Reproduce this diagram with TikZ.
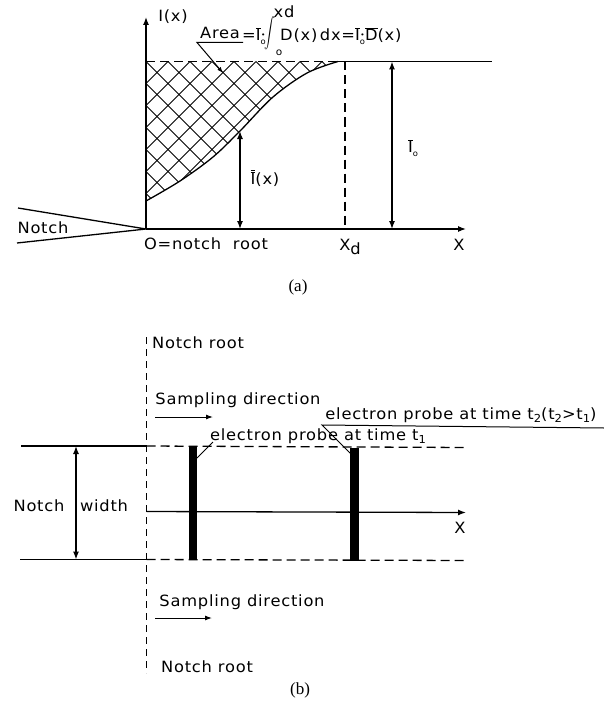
\documentclass[tikz,border=0pt]{standalone}
\usepackage{fontspec}
\setmainfont{Liberation Serif}
\newfontfamily\lett[FakeStretch=1.05,LetterSpace=5]{DejaVu Sans}
\usetikzlibrary{arrows.meta,calc}
\newcommand\ovl[1]{$\overline{\hbox{#1}}$}
\newcommand\dovl[1]{$\overline{\overline{\hbox{#1}}}$}
\newcommand\sbo{\raisebox{-3.5pt}{\fontsize{8}{8}\selectfont o}}
\newcommand\dotsbo{\rlap{\raisebox{3.5pt}{\fontsize{7}{7}\selectfont\kern0.5pt •}}\raisebox{-4pt}{\fontsize{8}{8}\selectfont o}}
\newcommand\sbx[1]{\raisebox{-3pt}{\fontsize{11}{11}\selectfont #1}}
\tikzset{
  lab/.style={font=\lett\fontsize{15.5}{17}\selectfont, inner sep=0pt},
  ln/.style={line width=1.3pt},
  thinln/.style={line width=1pt},
  dsh/.style={line width=1.3pt, dash pattern=on 9pt off 5pt},
  hatchln/.style={line width=0.8pt},
  arr/.style={-{Latex[length=8pt,width=6pt]}},
  darr/.style={{Latex[length=8pt,width=6pt]}-{Latex[length=8pt,width=6pt]}},
  sarr/.style={-{Latex[length=7pt,width=5pt]}},
  capt/.style={font=\fontsize{17}{19}\selectfont, inner sep=0pt}
}
\begin{document}
\begin{tikzpicture}[x=1pt,y=-1pt]
\useasboundingbox (0,0) rectangle (604,706);
% ---------------- part (a) ----------------
\coordinate (O) at (146,229);
\coordinate (Ytop) at (146,17);
\coordinate (Xend) at (466,229);
\coordinate (N1) at (18,208);
\coordinate (N2) at (17,243);
\coordinate (T0) at (146,61.5);
\coordinate (C0) at (146,201);
\coordinate (C1) at (338,61.5);
\coordinate (Tend) at (492,61.5);
\coordinate (Dtop) at (345,61.5);
\coordinate (Dbot) at (345,229);
\coordinate (Itop) at (392,61.5);
\coordinate (Ibot) at (392,229);
\coordinate (Jtop) at (240,131);
\coordinate (Jbot) at (240,229);
% hatching
\begin{scope}
\clip plot[smooth,tension=0.55] coordinates {(146,201) (180,181) (213,157) (240,131) (273,97) (307,73) (338,61.5)} -- (T0) -- cycle;
\foreach \k in {-10,...,10} {
  \draw[hatchln] ($(T0)+(22*\k,0)$) -- ++(200,200);
  \draw[hatchln] ($(T0)+(22*\k,0)$) -- ++(-200,200);
}
\end{scope}
\draw[ln] plot[smooth,tension=0.55] coordinates {(146,201) (180,181) (213,157) (240,131) (273,97) (307,73) (338,61.5)};
\draw[dsh] (T0) -- (C1);
\draw[ln] (C1) -- (Tend);
\draw[ln,arr] (O) -- (Ytop);
\draw[ln,arr] (O) -- (Xend);
\draw[ln] (N1) -- (O) -- (N2);
\draw[dsh] (Dtop) -- (Dbot);
\draw[ln,darr] (Itop) -- (Ibot);
\draw[ln,darr] (Jtop) -- (Jbot);
% labels (a)
\node[lab] (Ilab) at (173,17) {I(x)};
\node[lab,anchor=base] (area) at (220,39) {Area};
\coordinate (U0) at (197,42.5);
\coordinate (U1) at (243,42.5);
\coordinate (Utip) at (223,73);
\draw[thinln,-{Latex[length=6pt,width=4.5pt]}] (U1) -- (U0) -- (Utip);
\node[lab,anchor=base west] (f1) at (242,41) {=\ovl{I}\dotsbo};
\node[inner sep=0pt] (int) at (270,33) {\scalebox{1.1}[1.5]{$\displaystyle\int$}};
\node[lab] (xd) at (284,12) {xd};
\node[lab,font=\lett\fontsize{10}{10}\selectfont] (lo) at (279,53) {o};
\node[lab,anchor=base west] (f2) at (280,41) {D(x)\,dx=\ovl{I}\dotsbo\ovl{D}(x)};
\node[lab] (Ixlab) at (265,178) {\dovl{I}(x)};
\node[lab] (I0lab) at (413,148) {\ovl{I}\sbo};
\node[lab] (notch) at (43,228) {Notch};
\node[lab] (root) at (206,244) {O=notch\ \ root};
\node[lab] (xdl) at (350,247) {X\raisebox{-4pt}{d}};
\node[lab] (xl) at (459,245) {X};
\node[capt] (capa) at (298,287) {(a)};
% ---------------- part (b) ----------------
\coordinate (R0) at (146.5,337);
\coordinate (R1) at (146.5,673);
\draw[line width=1.2pt, dash pattern=on 7pt off 5pt] (R0) -- (R1);
\coordinate (A0) at (21,446);
\coordinate (A1) at (146.5,446);
\coordinate (A2) at (467,447.5);
\coordinate (B0) at (20,559.5);
\coordinate (B1) at (146.5,559.5);
\coordinate (B2) at (467,560.5);
\draw[ln] (A0) -- (A1);
\draw[dsh] (A1) -- (A2);
\draw[ln] (B0) -- (B1);
\draw[dsh] (B1) -- (B2);
\coordinate (W0) at (76,446);
\coordinate (W1) at (76,559.5);
\draw[ln,darr] (W0) -- (W1);
\coordinate (X0) at (146.5,511.5);
\coordinate (X1) at (466,512.5);
\draw[ln,arr] (X0) -- (X1);
\fill (188.5,446.5) rectangle (197,559.5);
\fill (350,448) rectangle (359,560.5);
\coordinate (L1a) at (197,458);
\coordinate (L1b) at (213,442);
\draw[thinln] (L1a) -- (L1b);
\coordinate (L2a) at (352,455);
\coordinate (L2b) at (322,425);
\coordinate (L2c) at (604,428);
\draw[thinln] (L2a) -- (L2b) -- (L2c);
\coordinate (S1a) at (155,417);
\coordinate (S1b) at (213,417);
\draw[thinln,sarr] (S1a) -- (S1b);
\coordinate (S2a) at (155,618);
\coordinate (S2b) at (212,618);
\draw[thinln,sarr] (S2a) -- (S2b);
\node[lab] (nrt) at (198,343) {Notch root};
\node[lab] (sd1) at (238,400) {Sampling direction};
\node[lab] (ep2) at (461,415) {electron probe at time t\sbx{2}(t\sbx{2}>t\sbx{1})};
\node[lab] (ep1) at (318,436) {electron probe at time t\sbx{1}};
\node[lab] (nw1) at (39,506) {Notch};
\node[lab] (nw2) at (104,506) {width};
\node[lab] (xb) at (460,528) {X};
\node[lab] (sd2) at (242,602) {Sampling direction};
\node[lab] (nrb) at (207,667) {Notch root};
\node[capt] (capb) at (300,690) {(b)};
\end{tikzpicture}
\end{document}
